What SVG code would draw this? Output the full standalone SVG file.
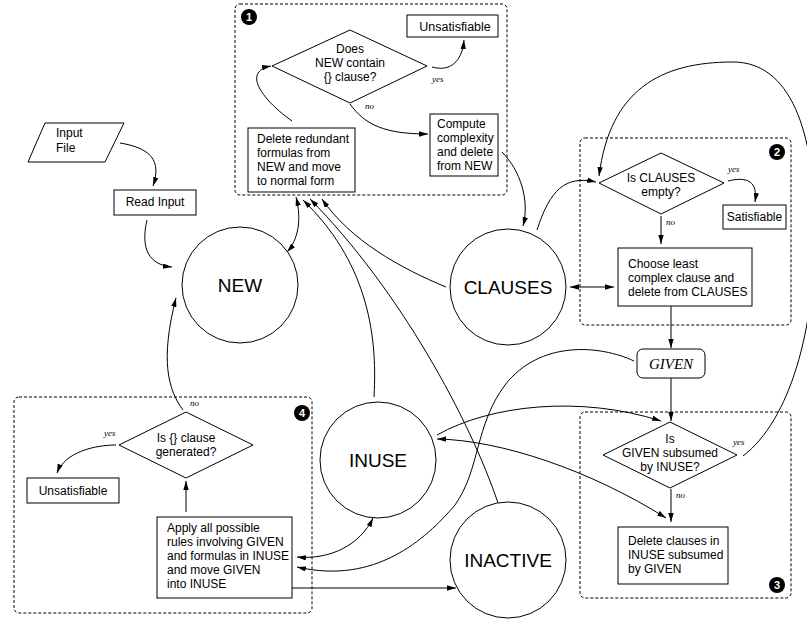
<svg xmlns="http://www.w3.org/2000/svg" width="807" height="620" viewBox="0 0 807 620">
<style>
.bx{fill:#fff;stroke:#000;stroke-width:1}
.dash{fill:none;stroke:#000;stroke-width:1;stroke-dasharray:3 2}
.t{font-family:"Liberation Sans",Arial,sans-serif;font-size:12px;fill:#000}
.m{text-anchor:middle}
.big{font-family:"Liberation Sans",Arial,sans-serif;font-size:19px;fill:#000;text-anchor:middle}
.lb{font-family:"Liberation Serif","Times New Roman",serif;font-style:italic;font-size:9px;fill:#000}
.bd{fill:#000}
.bt{font-family:"Liberation Sans",Arial,sans-serif;font-weight:bold;font-size:11px;fill:#fff;text-anchor:middle}
.c{fill:none;stroke:#000;stroke-width:1}
</style>
<defs>
<marker id="ah" viewBox="0 0 10 6" refX="10" refY="3" markerWidth="9" markerHeight="5.4" markerUnits="userSpaceOnUse" orient="auto-start-reverse"><path d="M0,0 L10,3 L0,6 z" fill="#000"/></marker>
</defs>
<rect width="807" height="620" fill="#fff"/>

<g id="group1">
<rect class="dash" x="235" y="4" width="272" height="191" rx="5"/>
<circle class="bd" cx="249" cy="17" r="8"/><text class="bt" x="249" y="21">1</text>
</g>
<g id="group2">
<rect class="dash" x="580" y="138" width="211" height="187" rx="5"/>
<circle class="bd" cx="777" cy="152" r="8"/><text class="bt" x="777" y="156">2</text>
</g>
<g id="group3">
<rect class="dash" x="580" y="412" width="211" height="186" rx="5"/>
<circle class="bd" cx="777" cy="585" r="8"/><text class="bt" x="777" y="589">3</text>
</g>
<g id="group4">
<rect class="dash" x="14" y="397" width="298" height="216" rx="5"/>
<circle class="bd" cx="302" cy="413" r="8"/><text class="bt" x="302" y="417">4</text>
</g>

<g id="connectors">
<path class="c" d="M120,143 C150,148 162,160 153,186" marker-end="url(#ah)"/>
<path class="c" d="M147,220 C140,250 150,265 172,267" marker-end="url(#ah)"/>
<path class="c" d="M287,252 C298,240 302,220 296,197" marker-start="url(#ah)" marker-end="url(#ah)"/>
<path class="c" d="M292,121 C265,102 240,72 271,66" marker-end="url(#ah)"/>
<path class="c" d="M432,67 C450,72 462,62 464,40" marker-end="url(#ah)"/>
<path class="c" d="M350,104 C365,125 385,134 428,134" marker-end="url(#ah)"/>
<path class="c" d="M502,152 C520,170 530,200 523,226" marker-end="url(#ah)"/>
<path class="c" d="M446,287 C400,268 350,240 322,199" marker-end="url(#ah)"/>
<path class="c" d="M374,397 C378,330 365,260 303,200" marker-end="url(#ah)"/>
<path class="c" d="M498,503 C470,420 400,290 310,199" marker-end="url(#ah)"/>
<path class="c" d="M537,230 C550,190 565,175 596,182" marker-end="url(#ah)"/>
<path class="c" d="M570,287 L614,287" marker-start="url(#ah)" marker-end="url(#ah)"/>
<path class="c" d="M728,181 C748,176 758,182 755,202" marker-end="url(#ah)"/>
<path class="c" d="M661,216 L661,244" marker-end="url(#ah)"/>
<path class="c" d="M671,306 L671,348" marker-end="url(#ah)"/>
<path class="c" d="M671,378 L671,421" marker-end="url(#ah)"/>
<path class="c" d="M671,489 L671,522" marker-end="url(#ah)"/>
<path class="c" d="M743,456 C790,420 815,330 815,230 C815,130 790,62 733,62 C660,62 610,90 599,176" marker-end="url(#ah)"/>
<path class="c" d="M437,435 C490,405 580,395 661,421" marker-end="url(#ah)"/>
<path class="c" d="M437,439 C500,440 590,470 666,518" marker-start="url(#ah)" marker-end="url(#ah)"/>
<path class="c" d="M634,361 C600,345 540,340 505,385 C475,425 480,470 455,505 C425,540 375,585 297,567" marker-end="url(#ah)"/>
<path class="c" d="M373,518 C360,545 330,560 297,557" marker-start="url(#ah)" marker-end="url(#ah)"/>
<path class="c" d="M292,588 L456,588" marker-end="url(#ah)"/>
<path class="c" d="M183,410 C168,390 160,360 176,298" marker-end="url(#ah)"/>
<path class="c" d="M116,445 C95,445 65,452 57,473" marker-end="url(#ah)"/>
<path class="c" d="M186,512 L186,481" marker-end="url(#ah)"/>
</g>

<g id="inputFile">
<polygon class="bx" points="28,162 45,123 124,123 105,162"/>
<text class="t" x="56" y="137">Input</text>
<text class="t" x="56" y="152">File</text>
</g>
<g id="readInput">
<rect class="bx" x="114" y="190" width="82" height="25"/>
<text class="t m" x="155" y="206">Read Input</text>
</g>

<g id="newNode">
<circle class="bx" cx="240" cy="285" r="58"/>
<text class="big" x="240" y="292">NEW</text>
</g>
<g id="clausesNode">
<circle class="bx" cx="508" cy="287" r="58"/>
<text class="big" x="508" y="294">CLAUSES</text>
</g>
<g id="inuseNode">
<circle class="bx" cx="378" cy="460" r="58"/>
<text class="big" x="378" y="467">INUSE</text>
</g>
<g id="inactiveNode">
<circle class="bx" cx="508" cy="560" r="58"/>
<text class="big" x="508" y="567">INACTIVE</text>
</g>

<g id="unsat1">
<rect class="bx" x="407" y="15" width="91" height="22"/>
<text class="t m" x="455" y="31" style="font-size:12.5px">Unsatisfiable</text>
</g>
<g id="decision1">
<polygon class="bx" points="272,66 350,30 427,66 350,103"/>
<text class="t m" x="350" y="53">Does</text>
<text class="t m" x="350" y="67">NEW contain</text>
<text class="t m" x="350" y="81">{} clause?</text>
<text class="lb" x="432" y="82">yes</text>
<text class="lb" x="365" y="109">no</text>
</g>
<g id="deleteRedundant">
<rect class="bx" x="248" y="128" width="107" height="64"/>
<text class="t" x="257" y="143">Delete redundant</text>
<text class="t" x="257" y="157">formulas from</text>
<text class="t" x="257" y="171">NEW and move</text>
<text class="t" x="257" y="185">to normal form</text>
</g>
<g id="compute">
<rect class="bx" x="430" y="114" width="68" height="62"/>
<text class="t" x="437" y="128">Compute</text>
<text class="t" x="437" y="142">complexity</text>
<text class="t" x="437" y="156">and delete</text>
<text class="t" x="437" y="170">from NEW</text>
</g>

<g id="decision2">
<polygon class="bx" points="599,183 661,153 724,183 661,214"/>
<text class="t m" x="661" y="182">Is CLAUSES</text>
<text class="t m" x="661" y="196">empty?</text>
<text class="lb" x="728" y="172">yes</text>
<text class="lb" x="666" y="225">no</text>
</g>
<g id="satisfiable">
<rect class="bx" x="723" y="205" width="63" height="24"/>
<text class="t m" x="754.5" y="221">Satisfiable</text>
</g>
<g id="choose">
<rect class="bx" x="618" y="248" width="134" height="58"/>
<text class="t" x="628" y="268">Choose least</text>
<text class="t" x="628" y="282">complex clause and</text>
<text class="t" x="628" y="296">delete from CLAUSES</text>
</g>

<g id="given">
<rect class="bx" x="637" y="349" width="68" height="29" rx="6"/>
<text x="671" y="369" text-anchor="middle" style="font-family:'Liberation Serif','Times New Roman',serif;font-style:italic;font-size:15px">GIVEN</text>
</g>

<g id="decision3">
<polygon class="bx" points="603,455 670,422 737,455 670,488"/>
<text class="t m" x="670" y="443">Is</text>
<text class="t m" x="670" y="457">GIVEN subsumed</text>
<text class="t m" x="670" y="471">by INUSE?</text>
<text class="lb" x="733" y="445">yes</text>
<text class="lb" x="676" y="498">no</text>
</g>
<g id="deleteClauses">
<rect class="bx" x="618" y="527" width="110" height="57"/>
<text class="t" x="628" y="545">Delete clauses in</text>
<text class="t" x="628" y="559">INUSE subsumed</text>
<text class="t" x="628" y="573">by GIVEN</text>
</g>

<g id="decision4">
<polygon class="bx" points="119,445 186,412 253,445 186,478"/>
<text class="t m" x="186" y="442">Is {} clause</text>
<text class="t m" x="186" y="456">generated?</text>
<text class="lb" x="104" y="436">yes</text>
<text class="lb" x="190" y="406">no</text>
</g>
<g id="unsat4">
<rect class="bx" x="27" y="478" width="92" height="25"/>
<text class="t m" x="73" y="495">Unsatisfiable</text>
</g>
<g id="apply">
<rect class="bx" x="157" y="517" width="135" height="81"/>
<text class="t" x="167" y="532">Apply all possible</text>
<text class="t" x="167" y="546">rules involving GIVEN</text>
<text class="t" x="167" y="560">and formulas in INUSE</text>
<text class="t" x="167" y="574">and move GIVEN</text>
<text class="t" x="167" y="588">into INUSE</text>
</g>
</svg>
